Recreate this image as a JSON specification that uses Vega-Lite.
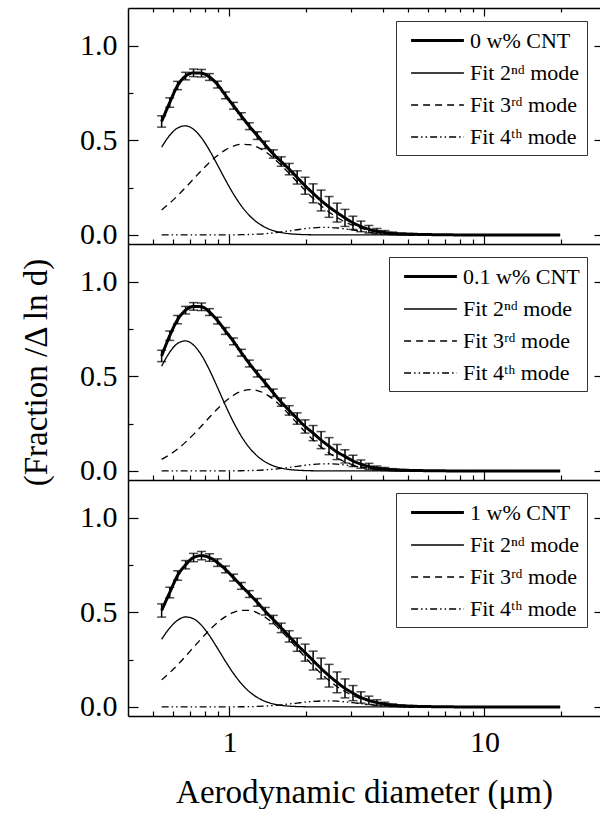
{
  "$schema": "https://vega.github.io/schema/vega-lite/v6.json",
  "padding": {"left": 20, "top": 7, "right": 0, "bottom": 0},
  "background": "white",
  "spacing": 0,
  "bounds": "flush",
  "config": {
    "view": {"stroke": null},
    "font": "Liberation Serif",
    "axis": {"grid": false, "domainColor": "black", "domainWidth": 1.5, "tickColor": "black", "tickWidth": 1.2, "labelColor": "black", "labelFont": "Liberation Serif", "labelFontSize": 30, "titleFont": "Liberation Serif", "titleFontSize": 33, "titleFontWeight": "normal", "titleColor": "black", "labelOverlap": false, "labelFlush": false},
    "legend": {"title": null, "orient": "top-right", "offset": 13, "symbolType": "M-2.4,0H2.4", "symbolSize": 484, "symbolOffset": 22, "symbolStrokeColor": "black", "symbolFillColor": "transparent", "labelFont": "Liberation Serif", "labelFontSize": 22, "labelColor": "black", "strokeColor": "#333", "fillColor": "white", "padding": 7, "rowPadding": 9, "labelOffset": 20}
  },
  "resolve": {"scale": {"strokeDash": "independent", "strokeWidth": "independent"}, "legend": {"strokeDash": "independent", "strokeWidth": "independent"}},
  "datasets": {
    "top": [
      {"s":"m","d":0.542,"v":0.60,"e":0.03},{"s":"m","d":0.583,"v":0.70,"e":0.025},{"s":"m","d":0.626,"v":0.79,"e":0.022},{"s":"m","d":0.673,"v":0.84,"e":0.02},{"s":"m","d":0.723,"v":0.857,"e":0.02},{"s":"m","d":0.777,"v":0.855,"e":0.02},{"s":"m","d":0.835,"v":0.835,"e":0.018},{"s":"m","d":0.898,"v":0.795,"e":0.018},{"s":"m","d":0.965,"v":0.738,"e":0.018},{"s":"m","d":1.037,"v":0.683,"e":0.018},{"s":"m","d":1.114,"v":0.628,"e":0.018},{"s":"m","d":1.197,"v":0.575,"e":0.018},{"s":"m","d":1.286,"v":0.525,"e":0.02},{"s":"m","d":1.382,"v":0.476,"e":0.02},{"s":"m","d":1.486,"v":0.428,"e":0.022},{"s":"m","d":1.596,"v":0.388,"e":0.025},{"s":"m","d":1.715,"v":0.348,"e":0.03},{"s":"m","d":1.843,"v":0.304,"e":0.035},{"s":"m","d":1.981,"v":0.26,"e":0.045},{"s":"m","d":2.129,"v":0.22,"e":0.05},{"s":"m","d":2.288,"v":0.182,"e":0.055},{"s":"m","d":2.458,"v":0.148,"e":0.055},{"s":"m","d":2.642,"v":0.118,"e":0.05},{"s":"m","d":2.839,"v":0.09,"e":0.045},{"s":"m","d":3.051,"v":0.064,"e":0.035},{"s":"m","d":3.278,"v":0.045,"e":0.028},{"s":"m","d":3.523,"v":0.03,"e":0.02},{"s":"m","d":3.786,"v":0.02,"e":0.014},{"s":"m","d":4.068,"v":0.013,"e":0.01},{"s":"m","d":4.371,"v":0.008,"e":0.007},{"s":"m","d":4.698,"v":0.005,"e":0.005},{"s":"m","d":5.048,"v":0.004,"e":0.004},{"s":"m","d":5.425,"v":0.003},{"s":"m","d":5.829,"v":0.002},{"s":"m","d":6.264,"v":0.0015},{"s":"m","d":6.732,"v":0.001},{"s":"m","d":7.234,"v":0.001},{"s":"m","d":7.774,"v":0},{"s":"m","d":8.354,"v":0},{"s":"m","d":8.977,"v":0},{"s":"m","d":9.647,"v":0},{"s":"m","d":10.37,"v":0},{"s":"m","d":11.14,"v":0},{"s":"m","d":11.97,"v":0},{"s":"m","d":12.86,"v":0},{"s":"m","d":13.82,"v":0},{"s":"m","d":14.86,"v":0},{"s":"m","d":15.96,"v":0},{"s":"m","d":17.15,"v":0},{"s":"m","d":18.43,"v":0},{"s":"m","d":19.81,"v":0},
      {"s":"f2","d":0.542,"v":0.4644},{"s":"f2","d":0.583,"v":0.5266},{"s":"f2","d":0.626,"v":0.5655},{"s":"f2","d":0.673,"v":0.5768},{"s":"f2","d":0.723,"v":0.5584},{"s":"f2","d":0.777,"v":0.513},{"s":"f2","d":0.835,"v":0.4474},{"s":"f2","d":0.898,"v":0.3695},{"s":"f2","d":0.965,"v":0.2901},{"s":"f2","d":1.037,"v":0.2163},{"s":"f2","d":1.114,"v":0.1532},{"s":"f2","d":1.197,"v":0.103},{"s":"f2","d":1.286,"v":0.0658},{"s":"f2","d":1.382,"v":0.0398},{"s":"f2","d":1.486,"v":0.0227},{"s":"f2","d":1.596,"v":0.0125},{"s":"f2","d":1.715,"v":0.0064},{"s":"f2","d":1.843,"v":0.0032},{"s":"f2","d":1.981,"v":0.0015},{"s":"f2","d":2.129,"v":0.0007},{"s":"f2","d":2.288,"v":0.0003},{"s":"f2","d":2.642,"v":0},{"s":"f2","d":19.81,"v":0},
      {"s":"f3","d":0.542,"v":0.1322},{"s":"f3","d":0.583,"v":0.1681},{"s":"f3","d":0.626,"v":0.2076},{"s":"f3","d":0.673,"v":0.2511},{"s":"f3","d":0.723,"v":0.296},{"s":"f3","d":0.777,"v":0.3408},{"s":"f3","d":0.835,"v":0.3829},{"s":"f3","d":0.898,"v":0.4203},{"s":"f3","d":0.965,"v":0.4499},{"s":"f3","d":1.037,"v":0.4701},{"s":"f3","d":1.114,"v":0.4794},{"s":"f3","d":1.197,"v":0.4774},{"s":"f3","d":1.286,"v":0.464},{"s":"f3","d":1.382,"v":0.4403},{"s":"f3","d":1.486,"v":0.4074},{"s":"f3","d":1.596,"v":0.3686},{"s":"f3","d":1.715,"v":0.3253},{"s":"f3","d":1.843,"v":0.2802},{"s":"f3","d":1.981,"v":0.2354},{"s":"f3","d":2.129,"v":0.1932},{"s":"f3","d":2.288,"v":0.1548},{"s":"f3","d":2.458,"v":0.1212},{"s":"f3","d":2.642,"v":0.0924},{"s":"f3","d":2.839,"v":0.0689},{"s":"f3","d":3.051,"v":0.0501},{"s":"f3","d":3.278,"v":0.0356},{"s":"f3","d":3.523,"v":0.0246},{"s":"f3","d":3.786,"v":0.0167},{"s":"f3","d":4.068,"v":0.011},{"s":"f3","d":4.371,"v":0.0071},{"s":"f3","d":4.698,"v":0.0045},{"s":"f3","d":5.048,"v":0.0027},{"s":"f3","d":6.264,"v":0.0005},{"s":"f3","d":19.81,"v":0},
      {"s":"f4","d":0.542,"v":0},{"s":"f4","d":0.835,"v":0},{"s":"f4","d":0.965,"v":0.0002},{"s":"f4","d":1.037,"v":0.0005},{"s":"f4","d":1.114,"v":0.0011},{"s":"f4","d":1.197,"v":0.0022},{"s":"f4","d":1.286,"v":0.0039},{"s":"f4","d":1.382,"v":0.0066},{"s":"f4","d":1.486,"v":0.0105},{"s":"f4","d":1.596,"v":0.0154},{"s":"f4","d":1.715,"v":0.0212},{"s":"f4","d":1.843,"v":0.0274},{"s":"f4","d":1.981,"v":0.0332},{"s":"f4","d":2.129,"v":0.0376},{"s":"f4","d":2.288,"v":0.0398},{"s":"f4","d":2.458,"v":0.0395},{"s":"f4","d":2.642,"v":0.0366},{"s":"f4","d":2.839,"v":0.0318},{"s":"f4","d":3.051,"v":0.0259},{"s":"f4","d":3.278,"v":0.0197},{"s":"f4","d":3.523,"v":0.0141},{"s":"f4","d":3.786,"v":0.0094},{"s":"f4","d":4.068,"v":0.0059},{"s":"f4","d":4.371,"v":0.0034},{"s":"f4","d":4.698,"v":0.0019},{"s":"f4","d":5.048,"v":0.001},{"s":"f4","d":6.264,"v":0},{"s":"f4","d":19.81,"v":0}
    ],
    "mid": [
      {"s":"m","d":0.542,"v":0.608,"e":0.03},{"s":"m","d":0.583,"v":0.715,"e":0.025},{"s":"m","d":0.626,"v":0.80,"e":0.022},{"s":"m","d":0.673,"v":0.85,"e":0.02},{"s":"m","d":0.723,"v":0.87,"e":0.02},{"s":"m","d":0.777,"v":0.868,"e":0.02},{"s":"m","d":0.835,"v":0.84,"e":0.018},{"s":"m","d":0.898,"v":0.795,"e":0.018},{"s":"m","d":0.965,"v":0.74,"e":0.018},{"s":"m","d":1.037,"v":0.685,"e":0.018},{"s":"m","d":1.114,"v":0.625,"e":0.018},{"s":"m","d":1.197,"v":0.568,"e":0.018},{"s":"m","d":1.286,"v":0.515,"e":0.018},{"s":"m","d":1.382,"v":0.465,"e":0.02},{"s":"m","d":1.486,"v":0.413,"e":0.02},{"s":"m","d":1.596,"v":0.364,"e":0.022},{"s":"m","d":1.715,"v":0.32,"e":0.025},{"s":"m","d":1.843,"v":0.277,"e":0.03},{"s":"m","d":1.981,"v":0.235,"e":0.035},{"s":"m","d":2.129,"v":0.20,"e":0.04},{"s":"m","d":2.288,"v":0.163,"e":0.045},{"s":"m","d":2.458,"v":0.131,"e":0.045},{"s":"m","d":2.642,"v":0.10,"e":0.04},{"s":"m","d":2.839,"v":0.077,"e":0.035},{"s":"m","d":3.051,"v":0.053,"e":0.03},{"s":"m","d":3.278,"v":0.036,"e":0.022},{"s":"m","d":3.523,"v":0.024,"e":0.016},{"s":"m","d":3.786,"v":0.015,"e":0.011},{"s":"m","d":4.068,"v":0.01,"e":0.008},{"s":"m","d":4.371,"v":0.006,"e":0.006},{"s":"m","d":4.698,"v":0.004,"e":0.004},{"s":"m","d":5.048,"v":0.003,"e":0.003},{"s":"m","d":5.425,"v":0.002},{"s":"m","d":5.829,"v":0.0015},{"s":"m","d":6.264,"v":0.001},{"s":"m","d":6.732,"v":0.001},{"s":"m","d":7.234,"v":0},{"s":"m","d":7.774,"v":0},{"s":"m","d":8.354,"v":0},{"s":"m","d":8.977,"v":0},{"s":"m","d":9.647,"v":0},{"s":"m","d":10.37,"v":0},{"s":"m","d":11.14,"v":0},{"s":"m","d":11.97,"v":0},{"s":"m","d":12.86,"v":0},{"s":"m","d":13.82,"v":0},{"s":"m","d":14.86,"v":0},{"s":"m","d":15.96,"v":0},{"s":"m","d":17.15,"v":0},{"s":"m","d":18.43,"v":0},{"s":"m","d":19.81,"v":0},
      {"s":"f2","d":0.542,"v":0.5537},{"s":"f2","d":0.583,"v":0.6279},{"s":"f2","d":0.626,"v":0.6743},{"s":"f2","d":0.673,"v":0.6878},{"s":"f2","d":0.723,"v":0.6658},{"s":"f2","d":0.777,"v":0.6117},{"s":"f2","d":0.835,"v":0.5335},{"s":"f2","d":0.898,"v":0.4406},{"s":"f2","d":0.965,"v":0.3459},{"s":"f2","d":1.037,"v":0.2579},{"s":"f2","d":1.114,"v":0.1827},{"s":"f2","d":1.197,"v":0.1228},{"s":"f2","d":1.286,"v":0.0785},{"s":"f2","d":1.382,"v":0.0475},{"s":"f2","d":1.486,"v":0.0271},{"s":"f2","d":1.596,"v":0.0149},{"s":"f2","d":1.715,"v":0.0076},{"s":"f2","d":1.843,"v":0.0038},{"s":"f2","d":1.981,"v":0.0018},{"s":"f2","d":2.129,"v":0.0008},{"s":"f2","d":2.288,"v":0.0004},{"s":"f2","d":2.642,"v":0},{"s":"f2","d":19.81,"v":0},
      {"s":"f3","d":0.542,"v":0.0614},{"s":"f3","d":0.583,"v":0.086},{"s":"f3","d":0.626,"v":0.1159},{"s":"f3","d":0.673,"v":0.1522},{"s":"f3","d":0.723,"v":0.1932},{"s":"f3","d":0.777,"v":0.2379},{"s":"f3","d":0.835,"v":0.2839},{"s":"f3","d":0.898,"v":0.3288},{"s":"f3","d":0.965,"v":0.3685},{"s":"f3","d":1.037,"v":0.4002},{"s":"f3","d":1.114,"v":0.4212},{"s":"f3","d":1.197,"v":0.4298},{"s":"f3","d":1.286,"v":0.4252},{"s":"f3","d":1.382,"v":0.4077},{"s":"f3","d":1.486,"v":0.3785},{"s":"f3","d":1.596,"v":0.3412},{"s":"f3","d":1.715,"v":0.2979},{"s":"f3","d":1.843,"v":0.252},{"s":"f3","d":1.981,"v":0.2065},{"s":"f3","d":2.129,"v":0.164},{"s":"f3","d":2.288,"v":0.1263},{"s":"f3","d":2.458,"v":0.0944},{"s":"f3","d":2.642,"v":0.0682},{"s":"f3","d":2.839,"v":0.0479},{"s":"f3","d":3.051,"v":0.0326},{"s":"f3","d":3.278,"v":0.0215},{"s":"f3","d":3.523,"v":0.0137},{"s":"f3","d":3.786,"v":0.0085},{"s":"f3","d":4.068,"v":0.0051},{"s":"f3","d":4.371,"v":0.003},{"s":"f3","d":4.698,"v":0.0017},{"s":"f3","d":5.048,"v":0.0009},{"s":"f3","d":6.264,"v":0},{"s":"f3","d":19.81,"v":0},
      {"s":"f4","d":0.542,"v":0},{"s":"f4","d":0.898,"v":0},{"s":"f4","d":1.037,"v":0.0004},{"s":"f4","d":1.114,"v":0.0009},{"s":"f4","d":1.197,"v":0.0017},{"s":"f4","d":1.286,"v":0.0032},{"s":"f4","d":1.382,"v":0.0054},{"s":"f4","d":1.486,"v":0.0088},{"s":"f4","d":1.596,"v":0.0131},{"s":"f4","d":1.715,"v":0.0185},{"s":"f4","d":1.843,"v":0.0244},{"s":"f4","d":1.981,"v":0.03},{"s":"f4","d":2.129,"v":0.0347},{"s":"f4","d":2.288,"v":0.0374},{"s":"f4","d":2.458,"v":0.0379},{"s":"f4","d":2.642,"v":0.0358},{"s":"f4","d":2.839,"v":0.0317},{"s":"f4","d":3.051,"v":0.0263},{"s":"f4","d":3.278,"v":0.0205},{"s":"f4","d":3.523,"v":0.0149},{"s":"f4","d":3.786,"v":0.0101},{"s":"f4","d":4.068,"v":0.0064},{"s":"f4","d":4.371,"v":0.0038},{"s":"f4","d":4.698,"v":0.0021},{"s":"f4","d":5.048,"v":0.0011},{"s":"f4","d":6.264,"v":0},{"s":"f4","d":19.81,"v":0}
    ],
    "bot": [
      {"s":"m","d":0.542,"v":0.51,"e":0.035},{"s":"m","d":0.583,"v":0.605,"e":0.028},{"s":"m","d":0.626,"v":0.695,"e":0.025},{"s":"m","d":0.673,"v":0.752,"e":0.022},{"s":"m","d":0.723,"v":0.79,"e":0.022},{"s":"m","d":0.777,"v":0.80,"e":0.022},{"s":"m","d":0.835,"v":0.79,"e":0.02},{"s":"m","d":0.898,"v":0.763,"e":0.02},{"s":"m","d":0.965,"v":0.727,"e":0.018},{"s":"m","d":1.037,"v":0.684,"e":0.018},{"s":"m","d":1.114,"v":0.64,"e":0.018},{"s":"m","d":1.197,"v":0.597,"e":0.018},{"s":"m","d":1.286,"v":0.553,"e":0.02},{"s":"m","d":1.382,"v":0.506,"e":0.02},{"s":"m","d":1.486,"v":0.462,"e":0.022},{"s":"m","d":1.596,"v":0.418,"e":0.025},{"s":"m","d":1.715,"v":0.373,"e":0.03},{"s":"m","d":1.843,"v":0.329,"e":0.035},{"s":"m","d":1.981,"v":0.287,"e":0.045},{"s":"m","d":2.129,"v":0.245,"e":0.05},{"s":"m","d":2.288,"v":0.203,"e":0.055},{"s":"m","d":2.458,"v":0.165,"e":0.06},{"s":"m","d":2.642,"v":0.13,"e":0.055},{"s":"m","d":2.839,"v":0.098,"e":0.05},{"s":"m","d":3.051,"v":0.073,"e":0.04},{"s":"m","d":3.278,"v":0.05,"e":0.03},{"s":"m","d":3.523,"v":0.035,"e":0.022},{"s":"m","d":3.786,"v":0.023,"e":0.015},{"s":"m","d":4.068,"v":0.015,"e":0.01},{"s":"m","d":4.371,"v":0.009,"e":0.007},{"s":"m","d":4.698,"v":0.006,"e":0.005},{"s":"m","d":5.048,"v":0.004,"e":0.004},{"s":"m","d":5.425,"v":0.003},{"s":"m","d":5.829,"v":0.002},{"s":"m","d":6.264,"v":0.0015},{"s":"m","d":6.732,"v":0.001},{"s":"m","d":7.234,"v":0.001},{"s":"m","d":7.774,"v":0},{"s":"m","d":8.354,"v":0},{"s":"m","d":8.977,"v":0},{"s":"m","d":9.647,"v":0},{"s":"m","d":10.37,"v":0},{"s":"m","d":11.14,"v":0},{"s":"m","d":11.97,"v":0},{"s":"m","d":12.86,"v":0},{"s":"m","d":13.82,"v":0},{"s":"m","d":14.86,"v":0},{"s":"m","d":15.96,"v":0},{"s":"m","d":17.15,"v":0},{"s":"m","d":18.43,"v":0},{"s":"m","d":19.81,"v":0},
      {"s":"f2","d":0.542,"v":0.3577},{"s":"f2","d":0.583,"v":0.4173},{"s":"f2","d":0.626,"v":0.4582},{"s":"f2","d":0.673,"v":0.4757},{"s":"f2","d":0.723,"v":0.4662},{"s":"f2","d":0.777,"v":0.4312},{"s":"f2","d":0.835,"v":0.3766},{"s":"f2","d":0.898,"v":0.3097},{"s":"f2","d":0.965,"v":0.2409},{"s":"f2","d":1.037,"v":0.177},{"s":"f2","d":1.114,"v":0.1229},{"s":"f2","d":1.197,"v":0.0805},{"s":"f2","d":1.286,"v":0.0499},{"s":"f2","d":1.382,"v":0.0291},{"s":"f2","d":1.486,"v":0.016},{"s":"f2","d":1.596,"v":0.0083},{"s":"f2","d":1.715,"v":0.0041},{"s":"f2","d":1.843,"v":0.0019},{"s":"f2","d":1.981,"v":0.0008},{"s":"f2","d":2.129,"v":0.0003},{"s":"f2","d":2.458,"v":0},{"s":"f2","d":19.81,"v":0},
      {"s":"f3","d":0.542,"v":0.143},{"s":"f3","d":0.583,"v":0.1809},{"s":"f3","d":0.626,"v":0.2224},{"s":"f3","d":0.673,"v":0.2681},{"s":"f3","d":0.723,"v":0.3151},{"s":"f3","d":0.777,"v":0.3621},{"s":"f3","d":0.835,"v":0.4064},{"s":"f3","d":0.898,"v":0.446},{"s":"f3","d":0.965,"v":0.4777},{"s":"f3","d":1.037,"v":0.4998},{"s":"f3","d":1.114,"v":0.5108},{"s":"f3","d":1.197,"v":0.5102},{"s":"f3","d":1.286,"v":0.4978},{"s":"f3","d":1.382,"v":0.4745},{"s":"f3","d":1.486,"v":0.4416},{"s":"f3","d":1.596,"v":0.4019},{"s":"f3","d":1.715,"v":0.3572},{"s":"f3","d":1.843,"v":0.3101},{"s":"f3","d":1.981,"v":0.2629},{"s":"f3","d":2.129,"v":0.2178},{"s":"f3","d":2.288,"v":0.1762},{"s":"f3","d":2.458,"v":0.1395},{"s":"f3","d":2.642,"v":0.1077},{"s":"f3","d":2.839,"v":0.0813},{"s":"f3","d":3.051,"v":0.0599},{"s":"f3","d":3.278,"v":0.0432},{"s":"f3","d":3.523,"v":0.0304},{"s":"f3","d":3.786,"v":0.0209},{"s":"f3","d":4.068,"v":0.014},{"s":"f3","d":4.371,"v":0.0092},{"s":"f3","d":4.698,"v":0.0059},{"s":"f3","d":5.048,"v":0.0037},{"s":"f3","d":5.829,"v":0.0013},{"s":"f3","d":19.81,"v":0},
      {"s":"f4","d":0.542,"v":0},{"s":"f4","d":0.898,"v":0},{"s":"f4","d":1.037,"v":0.0003},{"s":"f4","d":1.114,"v":0.0008},{"s":"f4","d":1.197,"v":0.0015},{"s":"f4","d":1.286,"v":0.0027},{"s":"f4","d":1.382,"v":0.0045},{"s":"f4","d":1.486,"v":0.0074},{"s":"f4","d":1.596,"v":0.011},{"s":"f4","d":1.715,"v":0.0156},{"s":"f4","d":1.843,"v":0.0205},{"s":"f4","d":1.981,"v":0.0253},{"s":"f4","d":2.129,"v":0.0292},{"s":"f4","d":2.288,"v":0.0315},{"s":"f4","d":2.458,"v":0.0319},{"s":"f4","d":2.642,"v":0.0302},{"s":"f4","d":2.839,"v":0.0267},{"s":"f4","d":3.051,"v":0.0222},{"s":"f4","d":3.278,"v":0.0172},{"s":"f4","d":3.523,"v":0.0125},{"s":"f4","d":3.786,"v":0.0085},{"s":"f4","d":4.068,"v":0.0054},{"s":"f4","d":4.371,"v":0.0032},{"s":"f4","d":4.698,"v":0.0018},{"s":"f4","d":5.048,"v":0.0009},{"s":"f4","d":6.264,"v":0},{"s":"f4","d":19.81,"v":0}
    ]
  },
  "vconcat": [
    {
      "width": 472, "height": 236,
      "data": {"name": "top"},
      "resolve": {"axis": {"x": "independent", "y": "independent"}},
      "layer": [
        {
          "mark": {"type": "line", "interpolate": "monotone", "color": "black"},
          "encoding": {
            "x": {"field": "d", "type": "quantitative", "scale": {"type": "log", "domain": [0.4, 28.4], "nice": false},
              "axis": {"values": [0.5,0.6,0.7,0.8,0.9,1,2,3,4,5,6,7,8,9,10,20], "labels": false, "title": null, "tickSize": {"condition": {"test": "datum.value == 1 || datum.value == 10", "value": -9}, "value": -5}}},
            "y": {"field": "v", "type": "quantitative", "scale": {"domain": [-0.048, 1.2], "nice": false, "zero": false},
              "axis": {"values": [0,0.25,0.5,0.75,1], "title": null, "labelPadding": 21, "labelExpr": "datum.value == 0.25 || datum.value == 0.75 ? '' : format(datum.value, '.1f')", "tickSize": {"condition": {"test": "datum.value == 0.25 || datum.value == 0.75", "value": -5}, "value": -10}}},
            "strokeDash": {"field": "s", "type": "nominal", "scale": {"domain": ["m","f2","f3","f4"], "range": [[1,0],[1,0],[7,5],[7,3,1.5,3,1.5,3]]},
              "legend": {"labelExpr": "datum.label == 'm' ? '0 w% CNT' : datum.label == 'f2' ? 'Fit 2ⁿᵈ mode' : datum.label == 'f3' ? 'Fit 3ʳᵈ mode' : 'Fit 4ᵗʰ mode'"}},
            "strokeWidth": {"field": "s", "type": "nominal", "scale": {"type": "ordinal", "domain": ["m","f2","f3","f4"], "range": [3,1.3,1.3,1.3]},
              "legend": {"labelExpr": "datum.label == 'm' ? '0 w% CNT' : datum.label == 'f2' ? 'Fit 2ⁿᵈ mode' : datum.label == 'f3' ? 'Fit 3ʳᵈ mode' : 'Fit 4ᵗʰ mode'"}}
          }
        },
        {
          "transform": [{"filter": "isValid(datum.e)"}],
          "mark": {"type": "errorbar", "ticks": {"size": 9}, "thickness": 1.5, "color": "black"},
          "encoding": {
            "x": {"field": "d", "type": "quantitative", "axis": {"orient": "top", "values": [0.5,0.6,0.7,0.8,0.9,1,2,3,4,5,6,7,8,9,10,20], "labels": false, "title": null, "tickSize": {"condition": {"test": "datum.value == 1 || datum.value == 10", "value": -8}, "value": -4}}},
            "y": {"field": "v", "type": "quantitative", "axis": {"orient": "right", "values": [0,0.5,1], "labels": false, "domain": false, "title": null, "tickSize": -6}},
            "yError": {"field": "e"}
          }
        }
      ]
    },
    {
      "width": 472, "height": 236,
      "data": {"name": "mid"},
      "resolve": {"axis": {"x": "independent", "y": "independent"}},
      "layer": [
        {
          "mark": {"type": "line", "interpolate": "monotone", "color": "black"},
          "encoding": {
            "x": {"field": "d", "type": "quantitative", "scale": {"type": "log", "domain": [0.4, 28.4], "nice": false},
              "axis": {"values": [0.5,0.6,0.7,0.8,0.9,1,2,3,4,5,6,7,8,9,10,20], "labels": false, "title": null, "tickSize": {"condition": {"test": "datum.value == 1 || datum.value == 10", "value": -9}, "value": -5}}},
            "y": {"field": "v", "type": "quantitative", "scale": {"domain": [-0.048, 1.2], "nice": false, "zero": false},
              "axis": {"values": [0,0.25,0.5,0.75,1], "title": "(Fraction /Δ ln d)", "titleX": -82, "titleY": 128, "titleAngle": 270, "titleBaseline": "alphabetic", "titleAlign": "center", "labelPadding": 21, "labelExpr": "datum.value == 0.25 || datum.value == 0.75 ? '' : format(datum.value, '.1f')", "tickSize": {"condition": {"test": "datum.value == 0.25 || datum.value == 0.75", "value": -5}, "value": -10}}},
            "strokeDash": {"field": "s", "type": "nominal", "scale": {"domain": ["m","f2","f3","f4"], "range": [[1,0],[1,0],[7,5],[7,3,1.5,3,1.5,3]]},
              "legend": {"labelExpr": "datum.label == 'm' ? '0.1 w% CNT' : datum.label == 'f2' ? 'Fit 2ⁿᵈ mode' : datum.label == 'f3' ? 'Fit 3ʳᵈ mode' : 'Fit 4ᵗʰ mode'"}},
            "strokeWidth": {"field": "s", "type": "nominal", "scale": {"type": "ordinal", "domain": ["m","f2","f3","f4"], "range": [3,1.3,1.3,1.3]},
              "legend": {"labelExpr": "datum.label == 'm' ? '0.1 w% CNT' : datum.label == 'f2' ? 'Fit 2ⁿᵈ mode' : datum.label == 'f3' ? 'Fit 3ʳᵈ mode' : 'Fit 4ᵗʰ mode'"}}
          }
        },
        {
          "transform": [{"filter": "isValid(datum.e)"}],
          "mark": {"type": "errorbar", "ticks": {"size": 9}, "thickness": 1.5, "color": "black"},
          "encoding": {
            "x": {"field": "d", "type": "quantitative", "axis": null},
            "y": {"field": "v", "type": "quantitative", "axis": {"orient": "right", "values": [0,0.5,1], "labels": false, "domain": false, "title": null, "tickSize": -6}},
            "yError": {"field": "e"}
          }
        }
      ]
    },
    {
      "width": 472, "height": 236,
      "data": {"name": "bot"},
      "resolve": {"axis": {"x": "independent", "y": "independent"}},
      "layer": [
        {
          "mark": {"type": "line", "interpolate": "monotone", "color": "black"},
          "encoding": {
            "x": {"field": "d", "type": "quantitative", "scale": {"type": "log", "domain": [0.4, 28.4], "nice": false},
              "axis": {"values": [0.5,0.6,0.7,0.8,0.9,1,2,3,4,5,6,7,8,9,10,20], "format": "~g", "labelExpr": "datum.value == 1 || datum.value == 10 ? datum.label : ''", "labelPadding": 20, "title": "Aerodynamic diameter (μm)", "titleX": 236, "titleY": 86, "titleAlign": "center", "titleBaseline": "alphabetic", "tickSize": {"condition": {"test": "datum.value == 1 || datum.value == 10", "value": -9}, "value": -5}}},
            "y": {"field": "v", "type": "quantitative", "scale": {"domain": [-0.048, 1.2], "nice": false, "zero": false},
              "axis": {"values": [0,0.25,0.5,0.75,1], "title": null, "labelPadding": 21, "labelExpr": "datum.value == 0.25 || datum.value == 0.75 ? '' : format(datum.value, '.1f')", "tickSize": {"condition": {"test": "datum.value == 0.25 || datum.value == 0.75", "value": -5}, "value": -10}}},
            "strokeDash": {"field": "s", "type": "nominal", "scale": {"domain": ["m","f2","f3","f4"], "range": [[1,0],[1,0],[7,5],[7,3,1.5,3,1.5,3]]},
              "legend": {"labelExpr": "datum.label == 'm' ? '1 w% CNT' : datum.label == 'f2' ? 'Fit 2ⁿᵈ mode' : datum.label == 'f3' ? 'Fit 3ʳᵈ mode' : 'Fit 4ᵗʰ mode'"}},
            "strokeWidth": {"field": "s", "type": "nominal", "scale": {"type": "ordinal", "domain": ["m","f2","f3","f4"], "range": [3,1.3,1.3,1.3]},
              "legend": {"labelExpr": "datum.label == 'm' ? '1 w% CNT' : datum.label == 'f2' ? 'Fit 2ⁿᵈ mode' : datum.label == 'f3' ? 'Fit 3ʳᵈ mode' : 'Fit 4ᵗʰ mode'"}}
          }
        },
        {
          "transform": [{"filter": "isValid(datum.e)"}],
          "mark": {"type": "errorbar", "ticks": {"size": 9}, "thickness": 1.5, "color": "black"},
          "encoding": {
            "x": {"field": "d", "type": "quantitative", "axis": null},
            "y": {"field": "v", "type": "quantitative", "axis": {"orient": "right", "values": [0,0.5,1], "labels": false, "domain": false, "title": null, "tickSize": -6}},
            "yError": {"field": "e"}
          }
        }
      ]
    }
  ]
}
